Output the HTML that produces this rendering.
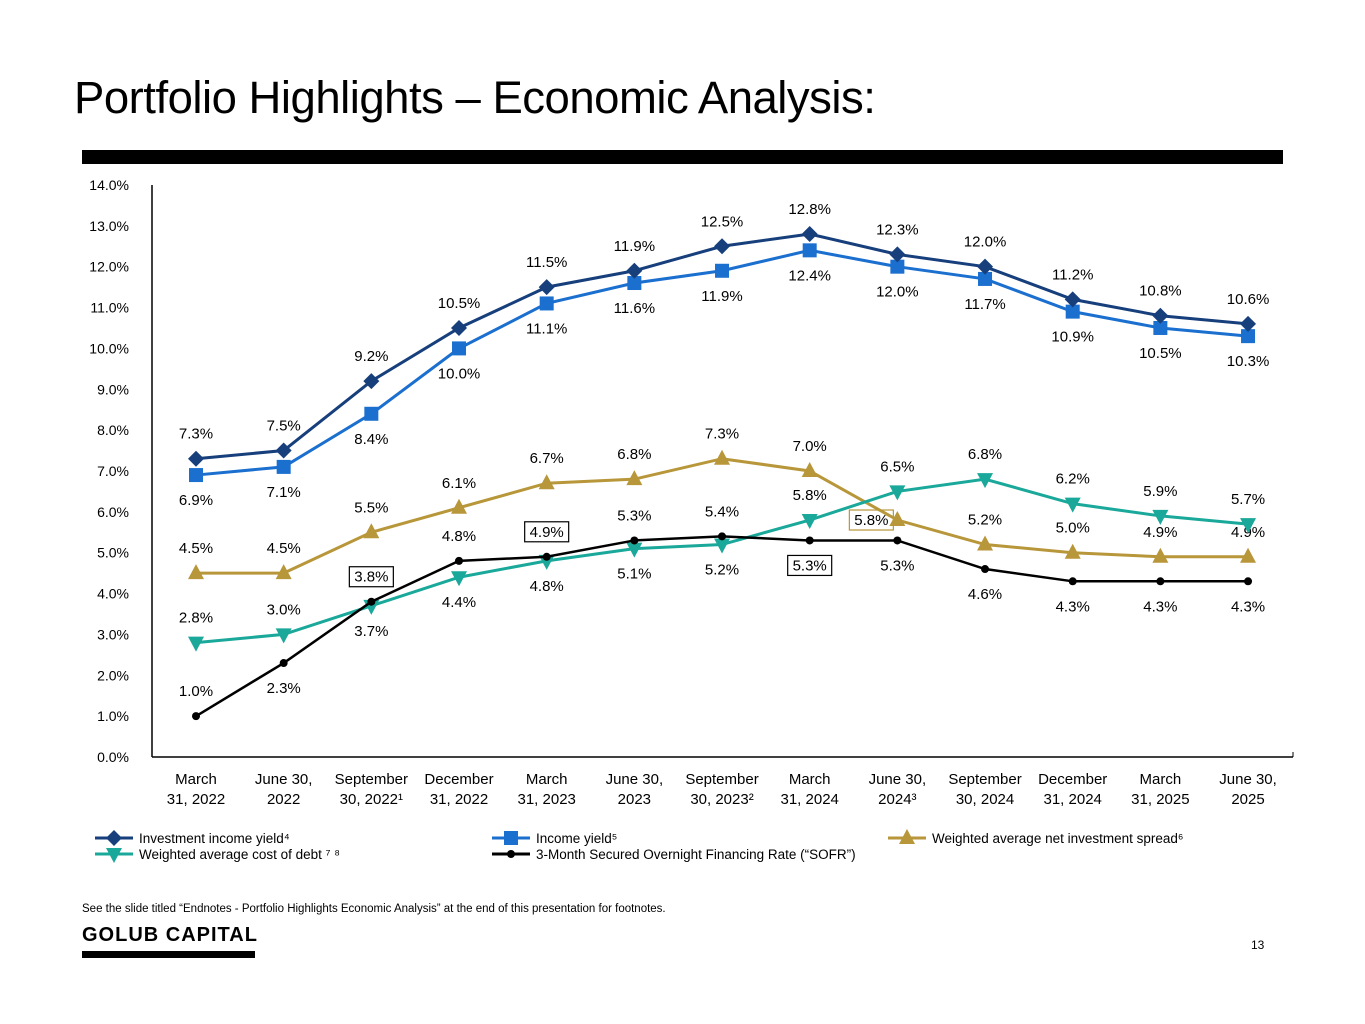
<!DOCTYPE html>
<html><head><meta charset="utf-8">
<style>
body{margin:0;width:1365px;height:1024px;background:#fff;font-family:"Liberation Sans",sans-serif;position:relative;overflow:hidden}
.t{position:absolute;left:74px;top:72px;font-size:45.5px;color:#000;letter-spacing:-0.5px}
.bar{position:absolute;left:82px;top:150px;width:1201px;height:14px;background:#000}
svg{position:absolute;left:0;top:0}
.fn{position:absolute;left:82px;top:903px;font-size:11.5px}
.logo{position:absolute;left:82px;top:924px;font-size:20px;font-weight:bold;letter-spacing:1px}
.lbar{position:absolute;left:82px;top:951px;width:173px;height:7px;background:#000}
.pg{position:absolute;left:1251px;top:938px;font-size:12px}
</style></head><body>
<div class="t">Portfolio Highlights – Economic Analysis:</div>
<div class="bar"></div>
<svg id="c" width="1365" height="1024"></svg>
<div class="fn">See the slide titled “Endnotes - Portfolio Highlights Economic Analysis” at the end of this presentation for footnotes.</div>
<div class="logo">GOLUB CAPITAL</div>
<div class="lbar"></div>
<div class="pg">13</div>
<script>
const categories=[["March","31, 2022"],["June 30,","2022"],["September","30, 2022¹"],["December","31, 2022"],["March","31, 2023"],["June 30,","2023"],["September","30, 2023²"],["March","31, 2024"],["June 30,","2024³"],["September","30, 2024"],["December","31, 2024"],["March","31, 2025"],["June 30,","2025"]];
const yTicks=[0,1,2,3,4,5,6,7,8,9,10,11,12,13,14];
const investmentIncomeYield=[7.3,7.5,9.2,10.5,11.5,11.9,12.5,12.8,12.3,12.0,11.2,10.8,10.6];
const incomeYield=[6.9,7.1,8.4,10.0,11.1,11.6,11.9,12.4,12.0,11.7,10.9,10.5,10.3];
const netSpread=[4.5,4.5,5.5,6.1,6.7,6.8,7.3,7.0,5.8,5.2,5.0,4.9,4.9];
const costOfDebt=[2.8,3.0,3.7,4.4,4.8,5.1,5.2,5.8,6.5,6.8,6.2,5.9,5.7];
const sofr=[1.0,2.3,3.8,4.8,4.9,5.3,5.4,5.3,5.3,4.6,4.3,4.3,4.3];
const iiySide=Array(13).fill('a');
const iySide=Array(13).fill('b');
const spSide=['a','a','a','a','a','a','a','a','L','a','a','a','a'];
const cdSide=['a','a','b','b','b','b','b','a','a','a','a','a','a'];
const soSide=['a','b','A','a','A','a','a','B','b','b','b','b','b'];

const svg=document.getElementById('c');const NS='http://www.w3.org/2000/svg';
const X=i=>196+i*87.67, Y=v=>757-v*40.86;
function el(t,a,p){const e=document.createElementNS(NS,t);for(const k in a)e.setAttribute(k,a[k]);(p||svg).appendChild(e);return e;}
let ax=el('line',{x1:152,y1:185,x2:152,y2:757,stroke:'#000','stroke-width':1.5});

let bx=el('line',{x1:152,y1:757,x2:1293,y2:757,stroke:'#000','stroke-width':1.5});

el('line',{x1:1293,y1:752,x2:1293,y2:757,stroke:'#000'});
yTicks.forEach(v=>{const t=el('text',{x:129,y:Y(v)+5,'text-anchor':'end','font-size':14});t.textContent=v.toFixed(1)+'%';
});
categories.forEach((c,i)=>{c.forEach((s,j)=>{const t=el('text',{x:X(i),y:784+j*20,'text-anchor':'middle','font-size':15});t.textContent=s;
});});
function marker(type,x,y,col,g){
 if(type==='d')el('polygon',{points:`${x},${y-8} ${x+8},${y} ${x},${y+8} ${x-8},${y}`,fill:col},g);
 else if(type==='s')el('rect',{x:x-7,y:y-7,width:14,height:14,fill:col},g);
 else if(type==='u')el('polygon',{points:`${x},${y-9} ${x+8},${y+6} ${x-8},${y+6}`,fill:col},g);
 else if(type==='v')el('polygon',{points:`${x},${y+9} ${x+8},${y-6} ${x-8},${y-6}`,fill:col},g);
 else el('circle',{cx:x,cy:y,r:4,fill:col},g);
}
function series(vals,sides,col,type,name,boxCol){
 const g=el('g',{});
 el('polyline',{points:vals.map((v,i)=>X(i)+','+Y(v)).join(' '),fill:'none',stroke:col,'stroke-width':type==='c'?2.5:3},g);
 vals.forEach((v,i)=>{marker(type,X(i),Y(v),col,g);
  const s=sides[i];let x=X(i),y=Y(v);
  if(s.toLowerCase()==='a')y-=20;else if(s.toLowerCase()==='b')y+=30;else{x-=26;y+=6;}
  if(s==='L')y-=1;
  const t=el('text',{x:x,y:y,'text-anchor':'middle','font-size':15},g);t.textContent=v.toFixed(1)+'%';
  
  if(s===s.toUpperCase())el('rect',{x:x-22,y:y-15,width:44,height:20,fill:'none',stroke:boxCol||'#000','stroke-width':1.2},g);
 });
}
series(incomeYield,iySide,'#1a6fcf','s','income-yield-series');
series(investmentIncomeYield,iiySide,'#163f7c','d','investment-income-yield-series');
series(netSpread,spSide,'#b8963a','u','net-spread-series','#b8963a');
series(costOfDebt,cdSide,'#1aa89a','v','cost-of-debt-series');
series(sofr,soSide,'#000','c','sofr-series');
const leg=[[95,838,'#163f7c','d','Investment income yield⁴'],[492,838,'#1a6fcf','s','Income yield⁵'],[888,838,'#b8963a','u','Weighted average net investment spread⁶'],[95,854,'#1aa89a','v','Weighted average cost of debt ⁷ ⁸'],[492,854,'#000','c','3-Month Secured Overnight Financing Rate (“SOFR”)']];
leg.forEach(l=>{const g=el('g',{});
 el('line',{x1:l[0],y1:l[1],x2:l[0]+38,y2:l[1],stroke:l[2],'stroke-width':3},g);marker(l[3],l[0]+19,l[1],l[2],g);
 const t=el('text',{x:l[0]+44,y:l[1]+5,'font-size':13.5},g);t.textContent=l[4];});
</script>
</body></html>
